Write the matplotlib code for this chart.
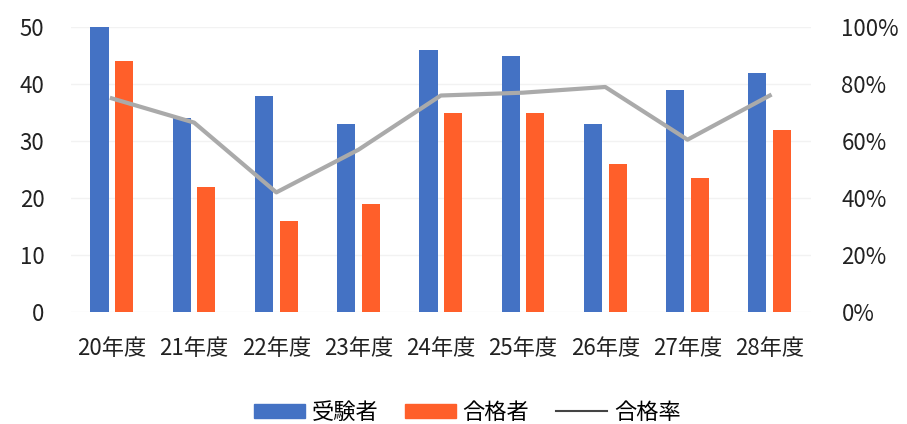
import matplotlib.pyplot as plt
from matplotlib.lines import Line2D
import numpy as np

plt.rcParams['font.family'] = ['Noto Sans CJK JP', 'DejaVu Sans']

years = ['20年度', '21年度', '22年度', '23年度', '24年度', '25年度', '26年度', '27年度', '28年度']
examinees = [50, 34, 38, 33, 46, 45, 33, 39, 42]
passed = [44, 22, 16, 19, 35, 35, 26, 23.5, 32]
pass_rate = [75, 66.5, 42, 57, 76, 77, 79, 60.5, 76]

blue = '#4472C4'
orange = '#FF5F2A'
gray = '#AAAAAA'

fig = plt.figure(figsize=(9.07, 4.24), dpi=100)
ax = fig.add_axes([0.078, 0.264, 0.816, 0.672])
x = np.arange(len(years))
w = 0.22
ax.bar(x - 0.15, examinees, w, color=blue, label='受験者', zorder=2)
ax.bar(x + 0.15, passed, w, color=orange, label='合格者', zorder=2)
ax.set_ylim(0, 50)
ax.set_xlim(-0.5, len(years) - 0.5)
ax.set_yticks(range(0, 51, 10))
ax.yaxis.grid(True, color='#F2F2F2', linewidth=1, zorder=0)
ax.set_xticks(x)
ax.set_xticklabels(years)
for s in ax.spines.values():
    s.set_visible(False)
ax.tick_params(length=0, labelsize=16, colors='#222222')
ax.tick_params(axis='y', pad=19)
ax.tick_params(axis='x', pad=18)

ax2 = ax.twinx()
ax2.plot(x, pass_rate, color=gray, linewidth=3, zorder=3)
ax2.set_ylim(0, 100)
ax2.set_yticks(range(0, 101, 20))
ax2.set_yticklabels([f'{v}%' for v in range(0, 101, 20)])
for s in ax2.spines.values():
    s.set_visible(False)
ax2.tick_params(length=0, labelsize=16, colors='#222222', pad=22)

handles = [
    plt.Rectangle((0, 0), 1, 1, color=blue),
    plt.Rectangle((0, 0), 1, 1, color=orange),
    Line2D([0], [0], color='#444444', linewidth=1.5),
]
fig.legend(handles, ['受験者', '合格者', '合格率'], loc='center',
           bbox_to_anchor=(0.515, 0.028), ncol=3, frameon=False, fontsize=16,
           handlelength=2.3, handleheight=0.6, columnspacing=1.2, handletextpad=0.3,
           borderpad=0)

fig.savefig('out.png', dpi=100)
